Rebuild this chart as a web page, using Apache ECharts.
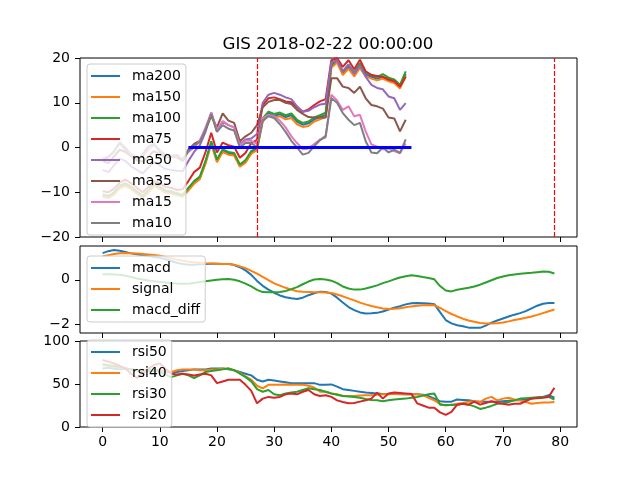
<!DOCTYPE html>
<html>
<head>
<meta charset="utf-8">
<title>GIS indicators</title>
<script src="https://cdn.jsdelivr.net/npm/echarts/dist/echarts.min.js"></script>
<style>
  html, body { margin: 0; padding: 0; background: #fff; }
  #main { width: 640px; height: 480px; }
</style>
</head>
<body>
<div id="main"></div>
<script>
var chart = echarts.init(document.getElementById('main'));

var chartTitle = 'GIS 2018-02-22 00:00:00';
var xTicks = [0, 10, 20, 30, 40, 50, 60, 70, 80];

// moving averages (top panel)
var maNames = ['ma200', 'ma150', 'ma100', 'ma75', 'ma50', 'ma35', 'ma15', 'ma10'];
var ma200 = [-10.8,-11.0,-10.3,-8.8,-8.3,-9.0,-10.0,-11.0,-9.8,-8.3,-9.0,-9.8,-10.0,-10.4,-10.8,-9.3,-7.8,-6.8,-3.3,1.1,-3.0,-0.7,-1.3,-1.5,-4.0,-3.1,-1.1,-0.3,6.2,7.6,7.1,7.4,6.8,7.2,5.8,5.1,5.4,6.3,6.8,7.3,18.2,19.4,16.6,18.0,16.3,18.2,16.3,15.8,15.4,15.8,15.2,14.8,13.6,16.4];
var ma150 = [-11.0,-11.3,-10.6,-9.1,-8.6,-9.3,-10.3,-11.3,-10.1,-8.6,-9.3,-10.1,-10.3,-10.7,-11.0,-9.6,-8.1,-7.1,-3.6,0.8,-3.3,-1.0,-1.6,-1.8,-4.3,-3.4,-1.4,-0.6,5.8,7.2,6.7,7.0,6.3,6.6,5.2,4.6,4.8,5.8,6.3,6.8,17.8,19.0,16.2,17.6,15.9,17.8,15.9,15.4,15.0,15.4,14.8,14.4,13.2,16.0];
var ma100 = [-10.5,-10.8,-10.0,-8.5,-8.0,-8.8,-9.8,-10.8,-9.5,-8.0,-8.8,-9.6,-9.8,-10.2,-10.6,-9.0,-7.5,-6.5,-3.0,1.4,-2.7,-0.4,-1.0,-1.2,-3.8,-2.8,-0.8,0.0,6.5,8.0,7.5,7.8,7.2,7.6,6.2,5.5,5.8,6.7,7.2,7.8,18.5,19.8,17.0,18.5,16.8,18.8,16.8,16.2,15.8,16.4,15.6,15.2,14.0,17.0];
var ma75 = [-9.8,-10.0,-9.2,-7.8,-7.2,-8.0,-9.0,-10.0,-8.8,-7.5,-8.0,-8.8,-9.0,-9.5,-9.3,-7.5,-5.5,-4.5,-1.0,3.3,-1.1,1.1,0.5,0.2,-2.3,-1.2,1.0,1.7,9.5,11.0,11.2,10.8,10.3,10.1,9.0,8.0,8.5,9.5,10.3,10.8,19.5,20.0,18.0,19.5,17.5,19.6,17.0,16.2,16.0,15.8,15.2,14.8,13.6,15.8];
var ma50 = [-5.0,-5.5,-4.0,-2.5,-3.0,-4.2,-5.0,-5.8,-4.5,-3.2,-4.0,-4.8,-5.0,-5.2,-5.3,-3.0,-1.0,0.5,3.5,7.8,3.6,5.8,5.0,4.5,0.8,1.8,2.0,3.0,10.0,11.8,12.2,11.8,11.2,10.8,9.2,8.0,8.2,9.0,9.6,9.8,19.0,19.5,17.0,18.5,16.5,18.3,15.8,14.0,13.3,13.0,11.4,11.0,8.4,9.9];
var ma35 = [-3.0,-3.5,-2.0,-0.5,-1.0,-2.0,-2.8,-3.2,-2.0,-0.8,-1.5,-2.2,-2.0,-2.2,-3.0,-0.5,0.8,1.5,4.0,7.0,4.5,7.6,6.0,5.5,1.4,2.5,3.3,5.0,9.0,10.2,10.6,10.6,10.0,9.7,8.4,7.5,6.8,6.7,6.7,6.7,15.5,15.5,13.6,13.3,12.2,13.6,11.0,9.5,9.2,8.7,6.7,6.5,3.6,6.2];
var ma15 = [-2.5,-2.0,-1.0,1.2,0.0,-1.5,-2.2,-2.0,-0.5,0.5,-0.5,-1.5,-1.8,-2.0,-2.5,-1.0,0.0,1.5,4.5,7.8,4.0,5.9,5.0,4.5,0.5,1.5,1.5,0.8,6.5,7.3,7.0,6.0,4.5,2.5,1.0,-0.4,-0.2,0.8,1.8,2.2,11.8,10.5,8.4,9.2,7.0,7.3,3.6,0.7,0.2,-0.4,-0.2,-0.8,-1.3,0.9];
var ma10 = [-2.8,-2.2,-0.8,1.0,-0.5,-2.0,-2.5,-1.5,0.2,0.8,-1.0,-1.8,-2.0,-1.6,-3.0,-0.8,0.5,1.2,4.0,7.5,3.5,5.0,4.2,3.8,0.0,1.0,1.0,0.0,6.0,7.0,6.6,5.2,3.5,1.5,0.0,-1.6,-1.2,0.3,1.6,2.6,11.0,10.0,7.7,6.2,5.0,5.5,1.4,-1.1,-1.3,0.0,-1.1,-0.5,-1.2,1.8];
var zeroLineSpan = [15, 54];
var signalDays = [27, 79];

// macd panel
var macdNames = ['macd', 'signal', 'macd_diff'];
var macd = [1.19,1.28,1.33,1.30,1.24,1.18,1.14,1.10,1.06,1.02,0.98,0.92,0.84,0.76,0.70,0.67,0.67,0.69,0.71,0.72,0.72,0.71,0.71,0.66,0.56,0.42,0.22,-0.05,-0.27,-0.44,-0.58,-0.70,-0.78,-0.83,-0.86,-0.80,-0.69,-0.60,-0.53,-0.55,-0.62,-0.80,-1.02,-1.22,-1.36,-1.46,-1.51,-1.50,-1.48,-1.42,-1.33,-1.25,-1.18,-1.10,-1.05,-1.04,-1.05,-1.06,-1.09,-1.45,-1.80,-1.95,-2.03,-2.08,-2.14,-2.15,-2.15,-2.05,-1.92,-1.82,-1.73,-1.64,-1.56,-1.49,-1.40,-1.28,-1.16,-1.07,-1.04,-1.04];
var signal = [1.04,1.10,1.15,1.19,1.20,1.19,1.17,1.15,1.13,1.11,1.07,1.02,0.96,0.90,0.85,0.81,0.78,0.76,0.74,0.73,0.72,0.71,0.71,0.67,0.60,0.52,0.40,0.27,0.13,-0.02,-0.16,-0.26,-0.36,-0.44,-0.51,-0.54,-0.55,-0.56,-0.56,-0.57,-0.59,-0.66,-0.74,-0.83,-0.92,-1.02,-1.10,-1.17,-1.23,-1.28,-1.31,-1.30,-1.27,-1.23,-1.19,-1.16,-1.14,-1.13,-1.14,-1.26,-1.40,-1.53,-1.64,-1.74,-1.82,-1.88,-1.93,-1.96,-1.96,-1.94,-1.91,-1.86,-1.80,-1.75,-1.70,-1.64,-1.57,-1.49,-1.41,-1.33];
var macdDiff = [0.25,0.25,0.24,0.22,0.18,0.12,0.06,0.01,-0.03,-0.07,-0.10,-0.12,-0.15,-0.17,-0.18,-0.18,-0.14,-0.10,-0.07,-0.03,0.00,0.02,0.03,0.00,-0.07,-0.17,-0.30,-0.45,-0.55,-0.56,-0.56,-0.55,-0.50,-0.42,-0.33,-0.20,-0.08,0.01,0.03,0.01,-0.04,-0.15,-0.30,-0.39,-0.44,-0.44,-0.39,-0.32,-0.25,-0.15,-0.07,0.02,0.10,0.16,0.20,0.17,0.12,0.08,0.02,-0.28,-0.48,-0.52,-0.45,-0.40,-0.36,-0.30,-0.22,-0.12,-0.02,0.08,0.15,0.20,0.24,0.27,0.29,0.31,0.34,0.37,0.36,0.28];

// rsi panel
var rsiNames = ['rsi50', 'rsi40', 'rsi30', 'rsi20'];
var rsi50 = [68,69,68,67,68,67,66,66,65,65,65,64,63.5,64,65,66,67,67,67,68,68,68,67,66,64,62,60,55,53,55,54,53,52,51,51,51,51,51,49,49,49.5,47,44,43,42,41,40,39.5,39,38.5,38.5,38.5,38,38,38,38,37.5,36,33,30,29.5,29.5,32,31.5,31,30,29.5,29.5,29.5,29.5,30,30.5,31,31,32,33,34,35,37,34];
var rsi40 = [72,71,70,69,68,67,66,65,66,67,66,65,64,66,67,67,67,66,66,67,67,68,68,66,63,59,55,48,45,49,49,49,49.5,49,49,49,48,46,41,41,39,38,36,36,36,36.5,37,37,37.5,38,38,38.5,38.5,38,38,38,37,34,31,27,25,26,27,28,29.5,30,29,33,35,31,33,34,32,31,29,27,28,28.5,28.5,29];
var rsi30 = [73,72,71,70,68,67,66,65,66,67,64,61,58,60,62,60,57,60,64,65,66,67,68,66,62,58,53,44,41,43,38,37,39,40,41,43,45,44,43,41,39,37.5,36,35.5,35,34,32.5,31.5,31,30,31,32,32.5,33,34,35,36.5,38,39,26,25.5,25.5,26,27,26,24,21,22.5,24.5,27,27.5,29,31,33,33.5,34,34.5,35,35,32];
var rsi20 = [78,76,74,71,68,62,57,62,68,72,74,68,62,61,62,61,60,61,62,60,51,53,55,55,55,49,42,27.5,33,35,34,35,38,39,38,41,43,38,36,37,35,31,29,27.5,28,29.5,31,33,40,33,39,40,39.5,39,38.5,27.5,25,22.5,22.5,17,14,17.5,26,27,26,29.5,26,28,30,28,27,26,27,27,30,33,33.5,34,35,45.7];

var tab10 = ['#1f77b4', '#ff7f0e', '#2ca02c', '#d62728', '#9467bd', '#8c564b', '#e377c2', '#7f7f7f'];
var font = 'DejaVu Sans';

function pairs(arr) {
    return arr.map(function (v, i) { return [i, v]; });
}
function minus(v) {
    return String(v).replace('-', '\u2212');
}

function line(name, values, color, idx) {
    return {
        name: name,
        type: 'line',
        xAxisIndex: idx,
        yAxisIndex: idx,
        data: pairs(values),
        symbol: 'none',
        lineStyle: { width: 2, color: color },
        itemStyle: { color: color },
        z: 2
    };
}

function xAxis(idx, showLabels) {
    return {
        type: 'value',
        gridIndex: idx,
        min: -3.95,
        max: 82.95,
        splitLine: { show: false },
        axisLine: { show: false, onZero: false },
        axisTick: { show: true, length: 5, lineStyle: { color: '#000' }, customValues: xTicks },
        axisLabel: { show: showLabels, customValues: xTicks, color: '#000', fontSize: 14, fontFamily: font, margin: 8 }
    };
}

function yAxis(idx, opts) {
    var ax = {
        type: 'value',
        gridIndex: idx,
        min: opts.min,
        max: opts.max,
        splitLine: { show: false },
        axisLine: { show: false, onZero: false },
        axisTick: { show: true, length: 5, lineStyle: { color: '#000' } },
        axisLabel: { color: '#000', fontSize: 14, fontFamily: font, margin: 10, formatter: minus }
    };
    if (opts.interval) ax.interval = opts.interval;
    if (opts.ticks) {
        ax.axisTick.customValues = opts.ticks;
        ax.axisLabel.customValues = opts.ticks;
    }
    return ax;
}

function legend(names, top) {
    return {
        data: names,
        orient: 'vertical',
        left: 87,
        top: top,
        z: 20,
        icon: 'rect',
        itemWidth: 29,
        itemHeight: 2,
        itemGap: 7,
        padding: [5, 5, 5, 4],
        backgroundColor: 'rgba(255,255,255,0.8)',
        borderColor: '#cccccc',
        borderWidth: 1,
        borderRadius: 3,
        selectedMode: false,
        textStyle: { fontSize: 14, lineHeight: 14, color: '#000', fontFamily: font, padding: [0, 0, 0, 7] }
    };
}

var grid = { left: 80, width: 497, show: true, borderColor: '#000', borderWidth: 1, backgroundColor: 'transparent' };

var dashStyle = { color: '#ff0000', width: 1.2, type: [5, 2], opacity: 1 };

var series = [];
var maData = [ma200, ma150, ma100, ma75, ma50, ma35, ma15, ma10];
maNames.forEach(function (n, i) { series.push(line(n, maData[i], tab10[i], 0)); });
series.push({
    name: 'zero',
    type: 'line',
    xAxisIndex: 0,
    yAxisIndex: 0,
    data: zeroLineSpan.map(function (x) { return [x, 0]; }),
    symbol: 'none',
    lineStyle: { width: 3, color: '#0000ff' },
    itemStyle: { color: '#0000ff' },
    z: 3,
    markLine: {
        silent: true,
        symbol: 'none',
        z: 4,
        label: { show: false },
        emphasis: { disabled: true },
        lineStyle: dashStyle,
        data: signalDays.map(function (d) { return { xAxis: d, lineStyle: dashStyle }; })
    }
});
var macdData = [macd, signal, macdDiff];
macdNames.forEach(function (n, i) { series.push(line(n, macdData[i], tab10[i], 1)); });
var rsiData = [rsi50, rsi40, rsi30, rsi20];
rsiNames.forEach(function (n, i) { series.push(line(n, rsiData[i], tab10[i], 2)); });

var option = {
    animation: false,
    backgroundColor: '#fff',
    title: {
        text: chartTitle,
        left: 328,
        top: 36,
        padding: 0,
        textAlign: 'center',
        textStyle: { fontSize: 16.7, fontWeight: 'normal', color: '#000', fontFamily: font }
    },
    grid: [
        Object.assign({ top: 58, height: 179 }, grid),
        Object.assign({ top: 246, height: 87 }, grid),
        Object.assign({ top: 341, height: 86 }, grid)
    ],
    xAxis: [xAxis(0, false), xAxis(1, false), xAxis(2, true)],
    yAxis: [
        yAxis(0, { min: -20, max: 20, interval: 10 }),
        yAxis(1, { min: -2.38, max: 1.51, ticks: [-2, 0] }),
        yAxis(2, { min: 0, max: 100, interval: 50 })
    ],
    legend: [legend(maNames, 64), legend(macdNames, 256), legend(rsiNames, 340)],
    series: series
};
chart.setOption(option);
</script>
</body>
</html>
